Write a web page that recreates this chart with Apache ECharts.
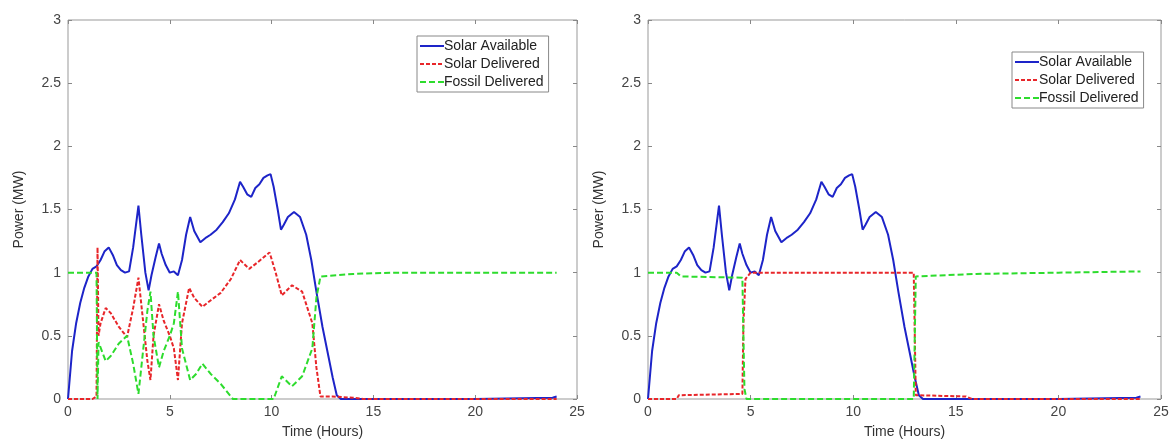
<!DOCTYPE html>
<html>
<head>
<meta charset="utf-8">
<script src="https://cdn.jsdelivr.net/npm/echarts@6/dist/echarts.min.js"></script>
<style>
  html, body { margin: 0; padding: 0; background: #fff; }
  #chart { width: 1174px; height: 446px; }
</style>
</head>
<body>
<div id="chart"></div>
<script>
// [time (hours), power (MW)]
var solarAvailable = [
  [0, 0], [0.2, 0.38], [0.4, 0.6], [0.6, 0.76], [0.8, 0.88], [1.0, 0.97], [1.2, 1.03], [1.4, 1.05],
  [1.6, 1.1], [1.8, 1.17], [2.0, 1.2], [2.2, 1.14], [2.4, 1.06], [2.6, 1.02], [2.8, 1.0], [3.0, 1.01],
  [3.2, 1.2], [3.46, 1.53], [3.6, 1.3], [3.8, 1.0], [3.96, 0.86], [4.1, 0.98], [4.3, 1.12], [4.47, 1.23],
  [4.6, 1.15], [4.8, 1.06], [5.0, 1.0], [5.2, 1.01], [5.4, 0.98], [5.6, 1.1], [5.8, 1.3], [6.0, 1.44],
  [6.2, 1.33], [6.5, 1.24], [6.8, 1.28], [7.0, 1.3], [7.3, 1.34], [7.6, 1.4], [7.9, 1.47], [8.2, 1.58],
  [8.45, 1.72], [8.6, 1.68], [8.8, 1.62], [9.0, 1.6], [9.2, 1.67], [9.4, 1.7], [9.6, 1.75], [9.8, 1.77],
  [9.95, 1.78], [10.1, 1.68], [10.3, 1.5], [10.46, 1.34], [10.6, 1.38], [10.8, 1.44], [11.1, 1.48],
  [11.4, 1.44], [11.7, 1.3], [11.95, 1.1], [12.2, 0.85], [12.5, 0.57], [12.8, 0.33], [13.0, 0.17],
  [13.2, 0.03], [13.4, 0], [16, 0], [20, 0], [23.8, 0.01], [24, 0.02]
];
var solarDeliveredA = [
  [0, 0], [1.2, 0], [1.4, 0.02], [1.45, 1.2], [1.5, 0.5], [1.6, 0.6], [1.85, 0.72], [2.1, 0.68],
  [2.5, 0.57], [2.9, 0.49], [3.2, 0.72], [3.46, 0.96], [3.7, 0.6], [3.9, 0.3], [4.05, 0.15], [4.2, 0.5],
  [4.47, 0.75], [4.7, 0.62], [5.0, 0.5], [5.2, 0.4], [5.4, 0.15], [5.6, 0.6], [5.95, 0.88], [6.2, 0.8],
  [6.6, 0.73], [7.0, 0.78], [7.5, 0.84], [8.0, 0.95], [8.45, 1.1], [8.9, 1.03], [9.3, 1.08], [9.9, 1.16],
  [10.2, 1.0], [10.5, 0.82], [11.0, 0.9], [11.5, 0.85], [12.0, 0.6], [12.2, 0.25], [12.4, 0.02],
  [13, 0.02], [14, 0.01], [14.5, 0], [24, 0]
];
var fossilDeliveredA = [
  [0, 1], [1.4, 1], [1.45, 0], [1.5, 0.45], [1.85, 0.3], [2.1, 0.34], [2.5, 0.44], [2.9, 0.5],
  [3.2, 0.28], [3.46, 0.04], [3.7, 0.4], [3.9, 0.7], [4.05, 0.85], [4.2, 0.5], [4.47, 0.25], [4.7, 0.38],
  [5.0, 0.5], [5.2, 0.6], [5.4, 0.85], [5.6, 0.4], [6.0, 0.15], [6.3, 0.2], [6.6, 0.28], [7.0, 0.2],
  [7.5, 0.12], [8.1, 0], [10.1, 0], [10.5, 0.18], [11.0, 0.1], [11.5, 0.18], [12.0, 0.4], [12.2, 0.8],
  [12.4, 0.97], [14, 0.99], [16, 1], [24, 1]
];
var solarDeliveredB = [
  [0, 0], [1.4, 0], [1.5, 0.03], [4.6, 0.04], [4.65, 0.6], [4.75, 0.95], [5.0, 1.0], [12.95, 1.0],
  [13.05, 0.03], [15.5, 0.02], [15.8, 0], [24, 0]
];
var fossilDeliveredB = [
  [0, 1], [1.4, 1], [1.6, 0.97], [4.6, 0.96], [4.65, 0.5], [4.7, 0.08], [4.8, 0], [12.95, 0],
  [13.05, 0.97], [16, 0.99], [20, 1.0], [24, 1.01]
];
var names = ['Solar Available', 'Solar Delivered', 'Fossil Delivered'];

var chart = echarts.init(document.getElementById('chart'));
var font = 'Liberation Sans, Arial, sans-serif';
var txt = '#444';

function xAx(g, top) {
  return {
    type: 'value', gridIndex: g, min: 0, max: 25, interval: 5,
    position: top ? 'top' : 'bottom',
    name: top ? '' : 'Time (Hours)', nameLocation: 'middle', nameGap: 26,
    nameTextStyle: { color: '#333', fontSize: 14, fontFamily: font },
    axisLine: { show: false, onZero: false },
    axisTick: { show: true, inside: true, length: 4, lineStyle: { color: '#888' } },
    axisLabel: { show: !top, color: txt, fontSize: 14, fontFamily: font, margin: 6 },
    splitLine: { show: false }
  };
}
function yAx(g, right) {
  return {
    type: 'value', gridIndex: g, min: 0, max: 3, interval: 0.5,
    position: right ? 'right' : 'left',
    name: right ? '' : 'Power (MW)', nameLocation: 'middle', nameGap: 42,
    nameTextStyle: { color: '#333', fontSize: 14, fontFamily: font },
    axisLine: { show: false, onZero: false },
    axisTick: { show: true, inside: true, length: 4, lineStyle: { color: '#888' } },
    axisLabel: { show: !right, color: txt, fontSize: 14, fontFamily: font, margin: 7 },
    splitLine: { show: false }
  };
}
function ser(name, data, g, color, type) {
  return {
    name: name, type: 'line', data: data, xAxisIndex: g * 2, yAxisIndex: g * 2,
    showSymbol: false, symbol: 'none', animation: false,
    lineStyle: { color: color, width: 2, type: type }, itemStyle: { color: color }
  };
}
function leg(left, top) {
  return {
    data: names, orient: 'vertical', left: left, top: top,
    backgroundColor: '#fff', borderColor: '#888', borderWidth: 1,
    padding: [3, 5, 3, 2], itemGap: 4, itemWidth: 24, itemHeight: 14,
    itemStyle: { opacity: 0 },
    textStyle: { color: '#222', fontSize: 14, fontFamily: font, padding: [0, 0, 0, -5] }
  };
}

var blue = '#1d24c8', red = '#e8262a', green = '#2ddc2d';

chart.setOption({
  animation: false,
  grid: [
    { left: 68, top: 20, width: 509, height: 379, show: true, borderColor: '#999', borderWidth: 1 },
    { left: 648, top: 20, width: 513, height: 379, show: true, borderColor: '#999', borderWidth: 1 }
  ],
  xAxis: [xAx(0, false), xAx(0, true), xAx(1, false), xAx(1, true)],
  yAxis: [yAx(0, false), yAx(0, true), yAx(1, false), yAx(1, true)],
  legend: [leg(417, 36), leg(1012, 52)],
  series: [
    ser(names[0], solarAvailable, 0, blue, 'solid'),
    ser(names[1], solarDeliveredA, 0, red, [4, 2]),
    ser(names[2], fossilDeliveredA, 0, green, [6, 3]),
    ser(names[0], solarAvailable, 1, blue, 'solid'),
    ser(names[1], solarDeliveredB, 1, red, [4, 2]),
    ser(names[2], fossilDeliveredB, 1, green, [6, 3])
  ]
});
</script>
</body>
</html>
